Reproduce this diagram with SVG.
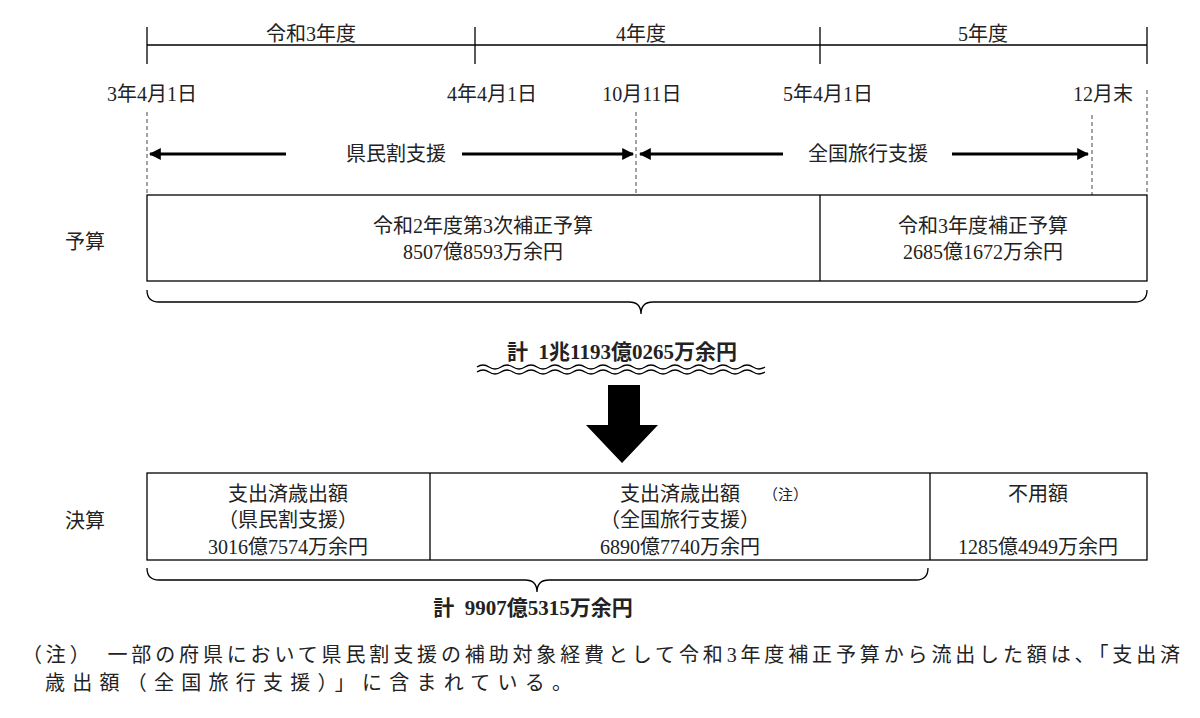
<svg xmlns="http://www.w3.org/2000/svg" width="1200" height="718" viewBox="0 0 1200 718">
<style>
text{font-family:"Liberation Serif","Noto Sans CJK JP",serif;font-size:20px;fill:#222;white-space:pre}
.m{text-anchor:middle}
.b{font-weight:bold;font-size:21px}
.ln{stroke:#000;stroke-width:1.3;fill:none}
.d{stroke:#666;stroke-width:1.2;stroke-dasharray:4,3;fill:none}
.ar{stroke:#000;stroke-width:3;fill:none}
</style>
<defs>
<marker id="ah" viewBox="0 0 10 10" refX="9" refY="5" markerWidth="4" markerHeight="4" orient="auto-start-reverse"><path d="M0,0L10,5L0,10z" fill="#000"/></marker>
</defs>
<g id="timeline">
<path class="ln" d="M147,45H1147M147,27V64M475,27V64M820,27V64M1147,27V64"/>
<text class="m" x="311" y="41">令和3年度</text>
<text class="m" x="641" y="41">4年度</text>
<text class="m" x="983" y="41">5年度</text>
<text class="m" x="152" y="101">3年4月1日</text>
<text class="m" x="492" y="101">4年4月1日</text>
<text class="m" x="642" y="101">10月11日</text>
<text class="m" x="828" y="101">5年4月1日</text>
<text class="m" x="1103" y="101">12月末</text>
</g>
<g id="connectors">
<path class="d" d="M147,112V195M636,112V195M1092,115V195M1147,90V195"/>
<path class="ar" d="M150,154H286" marker-start="url(#ah)"/>
<path class="ar" d="M462,154H633" marker-end="url(#ah)"/>
<path class="ar" d="M640,154H783" marker-start="url(#ah)"/>
<path class="ar" d="M952,154H1088" marker-end="url(#ah)"/>
<path class="ln" d="M147,290Q147,302 159,302H629Q641,302 641,314Q641,302 653,302H1135Q1147,302 1147,290"/>
<path class="ln" d="M147,568Q147,580 159,580H525Q537,580 537,592Q537,580 549,580H916Q928,580 928,568"/>
<path class="ln" d="M477,367q6,-4 12,0t12,0t12,0t12,0t12,0t12,0t12,0t12,0t12,0t12,0t12,0t12,0t12,0t12,0t12,0t12,0t12,0t12,0t12,0t12,0t12,0t12,0t12,0t12,0"/>
<path class="ln" d="M477,372q6,-4 12,0t12,0t12,0t12,0t12,0t12,0t12,0t12,0t12,0t12,0t12,0t12,0t12,0t12,0t12,0t12,0t12,0t12,0t12,0t12,0t12,0t12,0t12,0t12,0"/>
<path d="M608,385H640V425H658L622,463L586,425H608z" fill="#000"/>
</g>
<text class="m" x="396" y="161">県民割支援</text>
<text class="m" x="868" y="161">全国旅行支援</text>
<g id="budget">
<rect class="ln" x="147" y="195" width="1000" height="86"/>
<path class="ln" d="M820,195V281"/>
<text class="m" x="85" y="249">予算</text>
<text class="m" x="483" y="233">令和2年度第3次補正予算</text>
<text class="m" x="483" y="259">8507億8593万余円</text>
<text class="m" x="983" y="233">令和3年度補正予算</text>
<text class="m" x="983" y="259">2685億1672万余円</text>
</g>
<text class="m b" x="622" y="359">計  1兆1193億0265万余円</text>
<g id="settlement">
<rect class="ln" x="147" y="473" width="1000" height="87"/>
<path class="ln" d="M430,473V560M930,473V560"/>
<text class="m" x="85" y="528">決算</text>
<text class="m" x="288" y="501">支出済歳出額</text>
<text class="m" x="288" y="527">（県民割支援）</text>
<text class="m" x="288" y="554">3016億7574万余円</text>
<text class="m" x="680" y="501">支出済歳出額</text>
<text x="763" y="500" style="font-size:15px">（注）</text>
<text class="m" x="680" y="527">（全国旅行支援）</text>
<text class="m" x="680" y="554">6890億7740万余円</text>
<text class="m" x="1038" y="501">不用額</text>
<text class="m" x="1038" y="554">1285億4949万余円</text>
</g>
<text class="m b" x="533" y="615">計  9907億5315万余円</text>
<g id="note">
<text x="22" y="662" textLength="1158" lengthAdjust="spacing">（注）　一部の府県において県民割支援の補助対象経費として令和3年度補正予算から流出した額は、「支出済</text>
<text x="45" y="690" textLength="527" lengthAdjust="spacing">歳出額（全国旅行支援）」に含まれている。</text>
</g>
</svg>
